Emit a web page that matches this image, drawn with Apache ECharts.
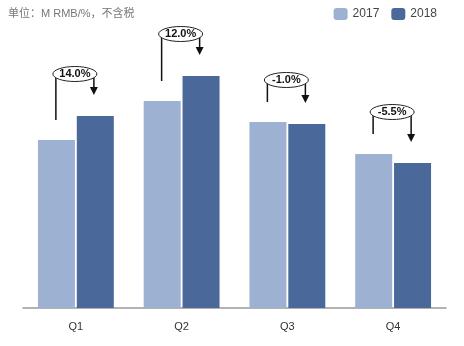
<!DOCTYPE html>
<html><head><meta charset="utf-8">
<script src="https://cdn.jsdelivr.net/npm/echarts@6/dist/echarts.min.js"></script>
<style>html,body{margin:0;padding:0;background:#fff}#c{width:464px;height:346px}</style>
</head><body><div id="c"></div>
<script>
var categories = ['Q1', 'Q2', 'Q3', 'Q4'];
var values2017 = [168, 207, 186, 154];
var values2018 = [192, 232, 184, 145];
var growthLabels = ['14.0%', '12.0%', '-1.0%', '-5.5%'];

var bracketData = categories.map(function (c, i) {
  return [i, values2017[i], values2018[i], growthLabels[i]];
});

var chart = echarts.init(document.getElementById('c'));
chart.setOption({
  animation: false,
  title: {
    text: '单位：M RMB/%，不含税', left: 3, top: 3,
    textStyle: { fontSize: 11, fontWeight: 'normal', color: '#777', fontFamily: 'Liberation Sans, Noto Sans CJK SC, sans-serif' }
  },
  legend: {
    right: 22, top: 3, itemWidth: 14, itemHeight: 12, itemGap: 12,
    textStyle: { fontSize: 12, color: '#444', fontFamily: 'Liberation Sans, sans-serif' },
    data: ['2017', '2018']
  },
  grid: { left: 23, right: 18, top: 20, bottom: 38 },
  xAxis: {
    type: 'category', data: categories,
    axisLine: { lineStyle: { color: '#999', width: 1.5 } },
    axisTick: { show: false },
    axisLabel: { fontSize: 11, color: '#333', margin: 13, fontFamily: 'Liberation Sans, sans-serif' }
  },
  yAxis: { type: 'value', min: 0, max: 288, show: false, splitLine: { show: false } },
  series: [
    { name: '2017', type: 'bar', data: values2017, barWidth: 37, barGap: '5%', itemStyle: { color: '#9db1d3' } },
    { name: '2018', type: 'bar', data: values2018, barWidth: 37, itemStyle: { color: '#4a6899' } },
    {
      type: 'custom', data: bracketData, z: 10, silent: true,
      renderItem: function (params, api) {
        var i = api.value(0), a = api.value(1), b = api.value(2);
        var label = growthLabels[i];
        var pa = api.coord([i, a]), pb = api.coord([i, b]);
        var top = Math.min(pa[1], pb[1]) - 42;
        var xl = pa[0] - 20, xr = pa[0] + 18;
        var yl = pa[1] - 20, yr = pb[1] - 21;
        var cx = (xl + xr) / 2;
        return {
          type: 'group',
          children: [
            { type: 'polyline', shape: { points: [[xl, yl], [xl, top], [xr, top], [xr, yr - 7]] },
              style: { stroke: '#111', lineWidth: 1.5, fill: null } },
            { type: 'polygon', shape: { points: [[xr - 4, yr - 8], [xr + 4, yr - 8], [xr, yr]] },
              style: { fill: '#111' } },
            { type: 'ellipse', shape: { cx: cx, cy: top, rx: 22, ry: 7.5 },
              style: { fill: '#fff', stroke: '#222', lineWidth: 1 } },
            { type: 'text', style: { text: label, x: cx, y: top, align: 'center', verticalAlign: 'middle',
              font: 'bold 11px Liberation Sans, Arial, sans-serif', fill: '#111' } }
          ]
        };
      }
    }
  ]
});
</script></body></html>
